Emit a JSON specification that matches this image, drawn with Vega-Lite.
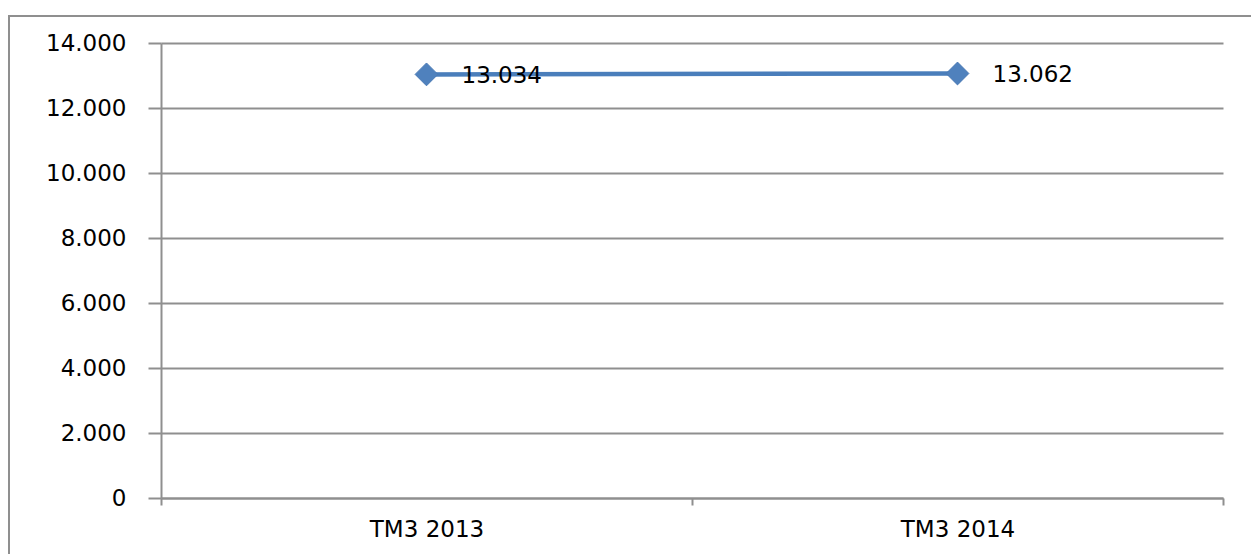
{
  "$schema": "https://vega.github.io/schema/vega-lite/v6.json",
  "autosize": {"type": "none"},
  "padding": {"left": 9, "top": 16, "right": 0, "bottom": 0},
  "width": 1250,
  "height": 545,
  "background": "#ffffff",
  "config": {
    "locale": {"number": {"decimal": ",", "thousands": ".", "grouping": [3], "currency": ["", " €"]}},
    "view": {"stroke": "#8f8f8f", "strokeWidth": 2},
    "font": "DejaVu Sans"
  },
  "data": {"values": [
    {"period": "TM3 2013", "value": 13034},
    {"period": "TM3 2014", "value": 13062}
  ]},
  "encoding": {
    "x": {
      "field": "period", "type": "nominal", "sort": null,
      "scale": {"type": "band", "range": [152, 1214], "paddingInner": 0, "paddingOuter": 0},
      "axis": {
        "title": null, "orient": "bottom", "offset": -63, "grid": false,
        "tickBand": "extent", "tickSize": 7, "tickWidth": 2, "tickColor": "#8f8f8f",
        "domainColor": "#8f8f8f", "domainWidth": 2,
        "labelAngle": 0, "labelFont": "DejaVu Sans", "labelFontSize": 23, "labelColor": "#000000",
        "labelPadding": 13
      }
    },
    "y": {
      "field": "value", "type": "quantitative",
      "scale": {"domain": [0, 14000], "range": [482, 27], "nice": false, "zero": true},
      "axis": {
        "title": null, "offset": -152, "values": [0, 2000, 4000, 6000, 8000, 10000, 12000, 14000],
        "format": ",.0f", "grid": true, "gridColor": "#8f8f8f", "gridWidth": 2,
        "tickSize": 13, "tickWidth": 2, "tickColor": "#8f8f8f",
        "domainColor": "#8f8f8f", "domainWidth": 2,
        "labelFont": "DejaVu Sans", "labelFontSize": 23, "labelColor": "#000000",
        "labelPadding": 22
      }
    }
  },
  "layer": [
    {"mark": {"type": "line", "color": "#4A7EBB", "strokeWidth": 4.5}},
    {"mark": {"type": "point", "shape": "diamond", "filled": true, "size": 520, "color": "#4F81BD", "opacity": 1, "stroke": "#4A7AB5", "strokeWidth": 1}},
    {"mark": {"type": "text", "align": "left", "baseline": "middle", "dx": 35, "dy": 2, "fontSize": 23, "font": "DejaVu Sans", "color": "#000000"},
     "encoding": {"text": {"field": "value", "type": "quantitative", "format": ",.0f"}}}
  ]
}
